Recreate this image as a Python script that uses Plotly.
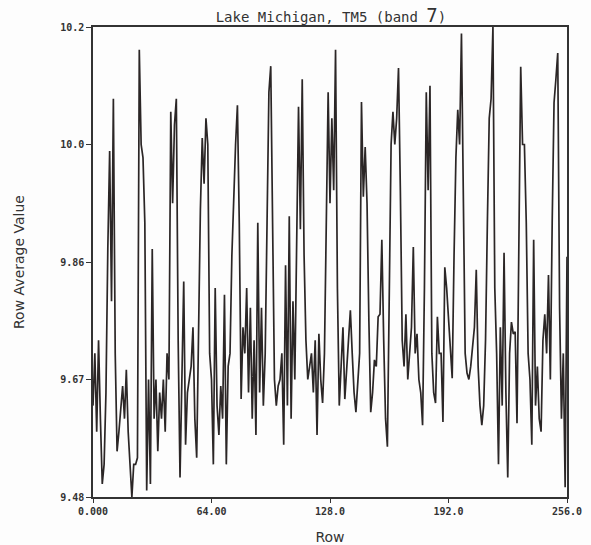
import plotly.graph_objects as go

rows = list(range(257))
values = [
    9.62, 9.70, 9.58, 9.72, 9.60, 9.50, 9.53, 9.64, 9.86, 10.01,
    9.78, 10.09, 9.70, 9.55, 9.58, 9.62, 9.65, 9.60, 9.675, 9.58,
    9.52, 9.48, 9.53, 9.53, 9.54, 10.165, 10.02, 10.0, 9.90, 9.49,
    9.66, 9.50, 9.86, 9.60, 9.66, 9.55, 9.64, 9.60, 9.66, 9.58,
    9.70, 9.66, 10.07, 9.93, 10.05, 10.09, 9.72, 9.51, 9.66, 9.81,
    9.56, 9.64, 9.66, 9.68, 9.74, 9.60, 9.54, 9.75, 9.92, 10.03,
    9.96, 10.06, 10.02, 9.70, 9.66, 9.53, 9.80, 9.62, 9.575, 9.65,
    9.60, 9.79, 9.53, 9.68, 9.70, 9.85, 9.95, 10.02, 10.08, 9.90,
    9.63, 9.74, 9.70, 9.80, 9.64, 9.77, 9.60, 9.72, 9.575, 9.90,
    9.64, 9.77, 9.62, 9.70, 9.90, 10.10, 10.14, 9.85, 9.66, 9.62,
    9.65, 9.66, 9.70, 9.56, 9.835, 9.62, 9.91, 9.60, 9.78, 9.66,
    9.86, 10.078, 9.89, 10.12, 9.85, 9.72, 9.66, 9.68, 9.70, 9.64,
    9.72, 9.575, 9.73, 9.66, 9.624, 9.70, 9.90, 10.10, 9.93, 10.06,
    9.95, 10.165, 9.80, 9.62, 9.68, 9.74, 9.63, 9.68, 9.72, 9.766,
    9.70, 9.64, 9.61, 9.66, 9.70, 10.085, 9.94, 10.016, 9.93, 9.75,
    9.61, 9.64, 9.69, 9.68, 9.756, 9.76, 9.874, 9.72, 9.60, 9.557,
    9.80, 10.02, 10.07, 10.02, 10.06, 10.137, 9.95, 9.72, 9.68, 9.76,
    9.66, 9.71, 9.74, 9.863, 9.70, 9.73, 9.66, 9.64, 9.59, 9.80,
    10.10, 9.95, 10.11, 9.70, 9.64, 9.624, 9.756, 9.70, 9.70, 9.595,
    9.832, 9.80, 9.75, 9.70, 9.662, 9.85, 10.0, 10.073, 10.02, 10.19,
    9.90, 9.70, 9.67, 9.66, 9.68, 9.716, 9.74, 9.828, 9.68, 9.62,
    9.59, 9.62, 9.72, 9.90, 10.06, 10.09, 10.2, 9.80, 9.70, 9.53,
    9.74, 9.62, 9.854, 9.64, 9.51, 9.70, 9.748, 9.73, 9.733, 9.593,
    9.90, 10.139, 10.02, 10.02, 9.90, 9.70, 9.66, 9.56, 9.874, 9.62,
    9.68, 9.60, 9.58, 9.72, 9.76, 9.70, 9.82, 9.66, 9.90, 10.084,
    10.12, 10.16, 9.77, 9.60, 9.70, 9.495, 9.848,
]

x_tickvals = [0, 64, 128, 192, 256]
x_ticktext = ["0.000", "64.00", "128.0", "192.0", "256.0"]
y_tickvals = [9.48, 9.66, 9.84, 10.02, 10.2]
y_ticktext = ["9.48", "9.67", "9.86", "10.0", "10.2"]

fig = go.Figure()
fig.add_trace(go.Scatter(
    x=rows, y=values, mode="lines",
    line=dict(color="#2b2626", width=1.7),
    showlegend=False,
))

tick_font = dict(family="DejaVu Sans Mono", size=10, color="#333", weight="bold")
axis_title_font = dict(family="DejaVu Sans", size=14, color="#333")
fig.update_layout(
    width=591, height=545,
    margin=dict(l=93, r=24, t=27, b=48),
    paper_bgcolor="#fdfdfd", plot_bgcolor="#fdfdfd",
    title=dict(
        text="Lake Michigan, TM5 (band <span style='font-size:19px'>7</span>)",
        x=0.56, xanchor="center", xref="container",
        yref="paper", y=1, yanchor="bottom", pad=dict(b=5),
        font=dict(family="DejaVu Sans Mono", size=14, color="#333"),
        automargin=False,
    ),
    xaxis=dict(
        range=[0, 256], tickvals=x_tickvals, ticktext=x_ticktext,
        showgrid=False, zeroline=False, showline=True, mirror=True,
        linecolor="#333", linewidth=1.5, ticks="outside", ticklen=4,
        tickcolor="#333", tickfont=tick_font, automargin=False,
        title=dict(text="Row", font=axis_title_font, standoff=18),
    ),
    yaxis=dict(
        range=[9.48, 10.2], tickvals=y_tickvals, ticktext=y_ticktext,
        showgrid=False, zeroline=False, showline=True, mirror=True,
        linecolor="#333", linewidth=1.5, ticks="outside", ticklen=5,
        tickcolor="#333", tickfont=tick_font, automargin=False,
        title=dict(text="Row Average Value", font=axis_title_font, standoff=32),
    ),
)
fig.write_html("out.html")
